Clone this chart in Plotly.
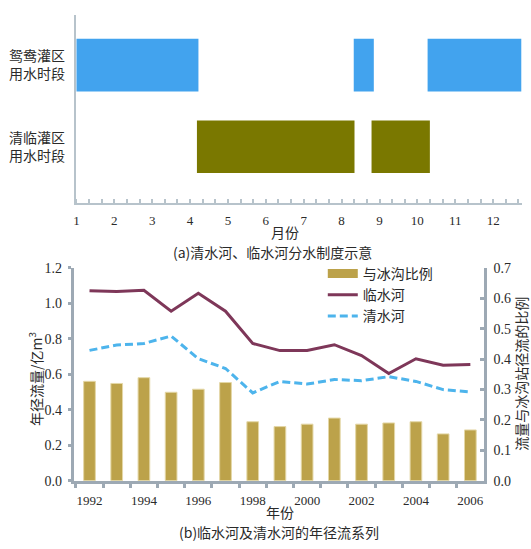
import plotly.graph_objects as go

# ---------- data: panel (a) ----------
month_ticks = list(range(1, 13))
row_labels = ["鸳鸯灌区<br>用水时段", "清临灌区<br>用水时段"]
row_pos = [2, 1]
yuanyang_start = [1.0, 8.32, 10.27]
yuanyang_end = [4.22, 8.85, 12.75]
qinglin_start = [4.18, 8.79]
qinglin_end = [8.34, 10.33]

# ---------- data: panel (b) ----------
years = list(range(1992, 2007))
ratio = [0.327, 0.320, 0.339, 0.291, 0.301, 0.323, 0.194, 0.178, 0.186, 0.206, 0.186, 0.190, 0.194, 0.154, 0.167]
linshui = [1.072, 1.067, 1.074, 0.956, 1.057, 0.956, 0.774, 0.734, 0.734, 0.767, 0.706, 0.605, 0.688, 0.651, 0.655]
qingshui = [0.735, 0.765, 0.774, 0.816, 0.688, 0.633, 0.495, 0.560, 0.545, 0.571, 0.564, 0.587, 0.560, 0.514, 0.501]
year_ticks = list(range(1992, 2007, 2))
left_ticks = [0.0, 0.2, 0.4, 0.6, 0.8, 1.0, 1.2]
right_ticks = [0.0, 0.1, 0.2, 0.3, 0.4, 0.5, 0.6, 0.7]

W, H = 531, 549
BLUE = "#42A3EE"
OLIVE = "#7A7800"
GOLD = "#BCA24A"
MAROON = "#7E3759"
LBLUE = "#4DB4EC"
AX_TOP = "#B7C3CB"
AX_BOT = "#9DA9B4"
SERIF = "Liberation Serif, serif"
CJK = "Noto Sans CJK SC"
TXT = "#2a2a2a"

fig = go.Figure()

# panel (a) bars
fig.add_trace(go.Bar(
    orientation="h", y=[row_pos[0]] * len(yuanyang_start),
    base=yuanyang_start, x=[e - s for s, e in zip(yuanyang_start, yuanyang_end)],
    width=0.643, marker=dict(color=BLUE, line=dict(width=0)),
    xaxis="x", yaxis="y", showlegend=False))
fig.add_trace(go.Bar(
    orientation="h", y=[row_pos[1]] * len(qinglin_start),
    base=qinglin_start, x=[e - s for s, e in zip(qinglin_start, qinglin_end)],
    width=0.643, marker=dict(color=OLIVE, line=dict(width=0)),
    xaxis="x", yaxis="y", showlegend=False))

# panel (b)
fig.add_trace(go.Bar(
    x=years, y=ratio, width=0.43, name="与冰沟比例",
    marker=dict(color=GOLD, line=dict(color="#E4D7A6", width=1)),
    xaxis="x2", yaxis="y2", showlegend=False))
# legend-only swatch for the bars
fig.add_trace(go.Scatter(
    x=[None], y=[None], mode="lines", name="与冰沟比例",
    line=dict(color=GOLD, width=9), xaxis="x2", yaxis="y3"))
fig.add_trace(go.Scatter(
    x=years, y=linshui, mode="lines", name="临水河",
    line=dict(color=MAROON, width=3), xaxis="x2", yaxis="y3"))
fig.add_trace(go.Scatter(
    x=years, y=qingshui, mode="lines", name="清水河",
    line=dict(color=LBLUE, width=3, dash="8px,4px"), xaxis="x2", yaxis="y3"))


def ann(text, px, py, angle=0, size=14):
    return dict(text=text, x=px / W, y=1 - py / H, xref="paper", yref="paper",
                xanchor="center", yanchor="middle", showarrow=False, textangle=angle,
                borderpad=0, font=dict(family=CJK, size=size, color=TXT))


fig.update_layout(
    width=W, height=H,
    margin=dict(l=0, r=0, t=0, b=0),
    paper_bgcolor="white", plot_bgcolor="white",
    barmode="overlay",
    font=dict(family=CJK, size=14, color=TXT),
    xaxis=dict(
        domain=[74 / W, 521.5 / W], anchor="y", range=[0.98, 12.75],
        tickmode="array", tickvals=month_ticks, ticks="",
        tickfont=dict(family=SERIF, size=13, color=TXT),
        showline=True, linecolor=AX_TOP, linewidth=2, showgrid=False, zeroline=False,
        ticklabelstandoff=4,
        minor=dict(tick0=1, dtick=1 / 3, ticks="inside", ticklen=4, tickwidth=1.5,
                   tickcolor=AX_TOP, showgrid=False)),
    yaxis=dict(
        domain=[1 - 201.7 / H, 1 - 8.5 / H], anchor="x", range=[0.31, 2.61],
        tickmode="array", tickvals=row_pos, ticktext=row_labels, ticks="",
        tickfont=dict(family=CJK, size=14, color=TXT),
        showline=True, linecolor=AX_TOP, linewidth=2, showgrid=False, zeroline=False,
        ticklabelstandoff=6),
    xaxis2=dict(
        domain=[72 / W, 483.5 / W], anchor="y2", range=[1991.42, 2006.49],
        tickmode="array", tickvals=year_ticks, ticks="",
        tickfont=dict(family=SERIF, size=13, color=TXT),
        showline=True, linecolor=AX_BOT, linewidth=3, showgrid=False, zeroline=False,
        ticklabelstandoff=6,
        minor=dict(tick0=1991.5, dtick=1, ticks="outside", ticklen=4, tickwidth=3,
                   tickcolor=AX_BOT, showgrid=False)),
    yaxis2=dict(
        domain=[1 - 487 / H, 1 - 268.3 / H], anchor="x2", side="right", range=[0, 0.7],
        tickmode="array", tickvals=right_ticks, tickformat=".1f",
        ticks="inside", ticklen=4, tickwidth=3, tickcolor=AX_BOT,
        tickfont=dict(family=SERIF, size=14, color=TXT),
        showline=True, linecolor=AX_BOT, linewidth=3, showgrid=False, zeroline=False,
        ticklabelstandoff=4),
    yaxis3=dict(
        overlaying="y2", anchor="x2", side="left", range=[0, 1.2],
        tickmode="array", tickvals=left_ticks, tickformat=".1f",
        ticks="outside", ticklen=3, tickwidth=3, tickcolor=AX_BOT,
        tickfont=dict(family=SERIF, size=14, color=TXT),
        showline=True, linecolor=AX_BOT, linewidth=3, showgrid=False, zeroline=False,
        ticklabelstandoff=3),
    legend=dict(
        x=322 / W, y=1 - 258 / H, xanchor="left", yanchor="top",
        bgcolor="rgba(0,0,0,0)", font=dict(family=CJK, size=14, color=TXT),
        traceorder="normal", tracegroupgap=0),
    annotations=[
        ann("月份", 284, 231),
        ann("(a)清水河、临水河分水制度示意", 272, 252),
        ann("年份", 279, 519),
        ann("(b)临水河及清水河的年径流系列", 278, 540),
        ann("年径流量/亿m<sup>3</sup>", 33.5, 382, -90),
        ann("流量与冰沟站径流的比例", 521, 377, -90),
    ],
)

fig.write_html("out.html")
